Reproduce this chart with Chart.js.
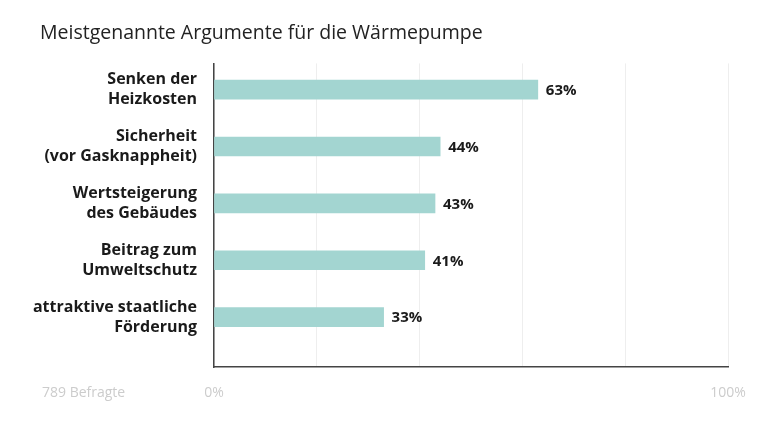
<!DOCTYPE html>
<html>
<head>
<meta charset="utf-8">
<script src="https://cdn.jsdelivr.net/npm/chart.js@4.4.1/dist/chart.umd.min.js"></script>
<style>
  html, body { margin: 0; padding: 0; background: #fff; }
  #wrap { width: 768px; height: 423px; position: relative; }
</style>
</head>
<body>
<div id="wrap"><canvas id="myChart"></canvas></div>
<script>
const titleText = 'Meistgenannte Argumente für die Wärmepumpe';
const categories = [
    ['Senken der', 'Heizkosten'],
    ['Sicherheit', '(vor Gasknappheit)'],
    ['Wertsteigerung', 'des Gebäudes'],
    ['Beitrag zum', 'Umweltschutz'],
    ['attraktive staatliche', 'Förderung']
];
const shares = [63, 44, 43, 41, 33];
const xTickLabels = { 0: '0%', 100: '100%' };
const footNote = '789 Befragte';

const fontFamily = '"Open Sans", sans-serif';

// bars sit on a linear y scale so the empty strip under the last bar can be kept
const barData = shares.map((v, i) => ({ x: v, y: i }));

const extras = {
    id: 'extras',
    afterLayout(chart) {
        // title is indented a bit more than the long y labels
        if (chart.titleBlock) chart.titleBlock.left = 40;
    },
    afterDatasetsDraw(chart) {
        const ctx = chart.ctx;
        const meta = chart.getDatasetMeta(0);
        ctx.save();
        ctx.font = '700 15px ' + fontFamily;
        ctx.fillStyle = '#1a1a1a';
        ctx.textBaseline = 'middle';
        ctx.textAlign = 'left';
        meta.data.forEach((bar, i) => {
            ctx.fillText(shares[i] + '%', bar.x + 8, bar.y + 1);
        });
        // footnote on the same line as the x tick labels
        ctx.font = '400 14px ' + fontFamily;
        ctx.fillStyle = '#cccccc';
        ctx.fillText(footNote, 42, 393);
        ctx.restore();
    }
};

new Chart(document.getElementById('myChart').getContext('2d'), {
    type: 'bar',
    data: {
        datasets: [{
            data: barData,
            backgroundColor: '#a3d5d1',
            borderWidth: 0,
            barThickness: 19
        }]
    },
    options: {
        indexAxis: 'y',
        responsive: true,
        maintainAspectRatio: false,
        animation: false,
        layout: { padding: { top: 0, right: 40, bottom: 5, left: 14 } },
        plugins: {
            legend: { display: false },
            tooltip: { enabled: false },
            title: {
                display: true,
                text: titleText,
                align: 'start',
                color: '#222',
                font: { family: fontFamily, size: 19.5, weight: '400', lineHeight: 1.2 },
                padding: { top: 22, bottom: 18 }
            }
        },
        scales: {
            x: {
                type: 'linear',
                min: 0,
                max: 100,
                ticks: {
                    stepSize: 20,
                    color: '#cccccc',
                    padding: 17,
                    font: { family: fontFamily, size: 14 },
                    callback: v => xTickLabels[v] || ''
                },
                grid: { color: '#eeeeee', drawTicks: false },
                border: { color: '#444', width: 1.5 }
            },
            y: {
                type: 'linear',
                reverse: true,
                offset: false,
                bounds: 'data',
                min: -0.46,
                max: 4.88,
                afterBuildTicks: axis => {
                    axis.ticks = categories.map((c, i) => ({ value: i }));
                },
                afterFit: axis => { axis.width = 200; },
                ticks: {
                    color: '#1a1a1a',
                    padding: 17,
                    font: { family: fontFamily, size: 16, weight: '700', lineHeight: 1.25 },
                    callback: v => categories[v]
                },
                grid: { display: false, drawTicks: false, offset: false },
                border: { color: '#444', width: 1.5 }
            }
        }
    },
    plugins: [extras]
});
</script>
</body>
</html>
